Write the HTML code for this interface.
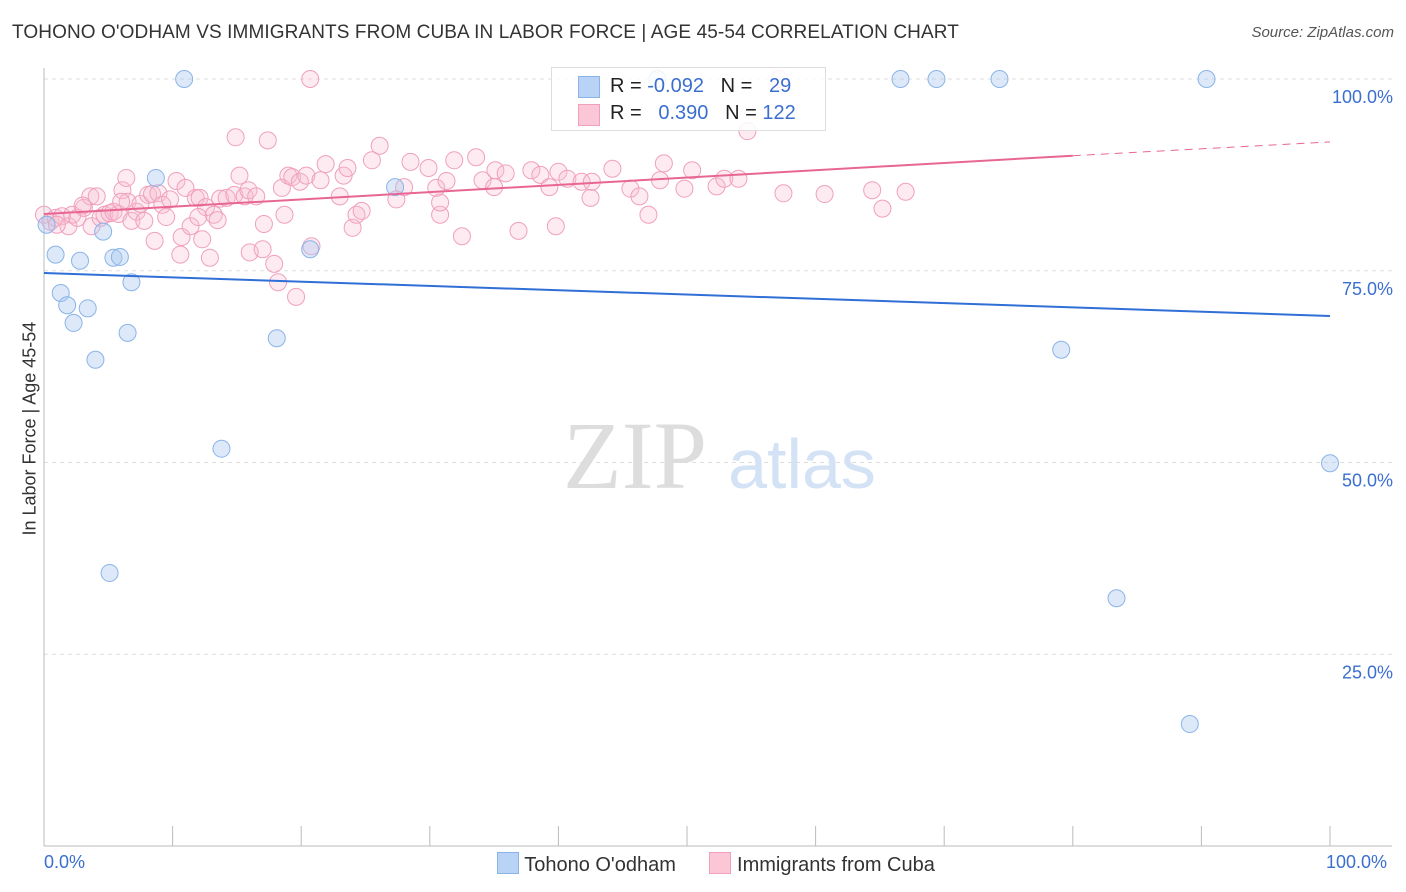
<!DOCTYPE html>
<html><head><meta charset="utf-8"><style>
body{margin:0;background:#fff;font-family:"Liberation Sans",sans-serif;}
#wrap{position:relative;width:1406px;height:892px;overflow:hidden}
.t{position:absolute;white-space:nowrap}
</style></head><body>
<div id="wrap">
<div class="t" style="left:12px;top:22px;font-size:19px;color:#333;letter-spacing:0.1px">TOHONO O'ODHAM VS IMMIGRANTS FROM CUBA IN LABOR FORCE | AGE 45-54 CORRELATION CHART</div>
<div class="t" style="right:12px;top:24px;font-size:15px;color:#555;font-style:italic;">Source: ZipAtlas.com</div>
<svg id="svg" width="1406" height="892" style="position:absolute;left:0;top:0"></svg>
<div class="t" style="left:551px;top:67px;width:273px;height:62px;border:1px solid #ddd;background:rgba(255,255,255,0.85);font-size:20px;">
 <div style="position:absolute;left:26px;top:8px;width:20px;height:20px;background:#b8d3f5;border:1px solid #8ab4e8"></div>
 <div style="position:absolute;left:26px;top:36px;width:20px;height:20px;background:#fbc6d6;border:1px solid #f0a0bc"></div>
 <div style="position:absolute;left:58px;top:7px;color:#222">R = <span style="color:#3a6fd0">-0.092</span>&nbsp;&nbsp;&nbsp;N = &nbsp;&nbsp;<span style="color:#3a6fd0">29</span></div>
 <div style="position:absolute;left:58px;top:34px;color:#222">R = &nbsp;&nbsp;<span style="color:#3a6fd0">0.390</span>&nbsp;&nbsp;&nbsp;N = <span style="color:#3a6fd0">122</span></div>
</div>
<div class="t" style="left:-50px;top:445px;font-size:18px;color:#333;transform:rotate(-90deg);width:160px;text-align:center">In Labor Force | Age 45-54</div>
<div class="t" style="left:44px;top:852px;font-size:18px;color:#3a6fd0">0.0%</div>
<div class="t" style="left:1326px;top:852px;font-size:18px;color:#3a6fd0">100.0%</div>
<div class="t" style="left:497px;top:852px;font-size:20px;color:#333">
 <span style="display:inline-block;width:20px;height:20px;background:#b8d3f5;border:1px solid #8ab4e8;vertical-align:-3px"></span> Tohono O'odham
 <span style="display:inline-block;width:20px;height:20px;background:#fbc6d6;border:1px solid #f0a0bc;vertical-align:-3px;margin-left:28px"></span> Immigrants from Cuba
</div>
</div>
<script>
const blueX=[0.9,2.8,4.6,5.4,5.9,6.8,8.7,1.3,1.8,3.4,2.3,4.0,6.5,18.1,13.8,5.1,20.7,27.3,79.1,100,83.4,89.1,0.2,10.9,66.6,69.4,74.3,90.4,47.7];
const blueY=[77.1,76.3,80.1,76.7,76.8,73.5,87.1,72.1,70.5,70.1,68.2,63.4,66.9,66.2,51.8,35.6,77.8,85.9,64.7,49.9,32.3,15.9,81.0,100,100,100,100,100,100];
const pinkX=[0,0.5,0.9,1.4,1.9,2.2,2.6,3.1,3.6,3.7,4.1,4.4,4.7,5.1,5.4,5.8,6.1,6.4,6.5,6.8,7.2,7.5,7.8,8.1,8.4,8.6,8.9,9.2,9.5,9.8,10.3,10.6,10.7,11.0,11.4,11.8,12.1,12.3,12.6,12.9,13.2,13.5,13.7,14.2,14.8,14.9,15.2,15.6,15.9,16.0,16.5,17.0,17.1,17.4,17.9,18.2,18.5,18.7,19.0,19.3,19.6,19.9,20.4,20.8,21.5,21.9,23.0,23.3,23.6,24.0,24.3,24.7,25.5,26.1,27.4,28.0,28.5,29.9,30.5,30.8,30.8,31.3,31.9,32.5,33.6,34.1,35.0,35.1,35.9,36.9,37.9,38.6,39.3,39.8,40.0,40.7,41.8,42.5,42.6,44.2,45.6,46.3,47.0,47.9,48.2,49.8,50.4,52.3,52.9,54.0,54.7,57.5,60.7,64.4,65.2,67.0,20.7,57.2,1.0,3.0,6.0,12.0];
const pinkY=[82.3,81.4,81.9,82.1,80.8,82.3,81.9,83.2,84.7,80.8,84.7,81.9,82.3,82.5,82.7,82.4,85.5,87.1,84.0,81.5,82.7,83.7,81.5,84.9,85.0,78.9,85.1,83.6,82.0,84.3,86.7,77.1,79.4,85.8,80.8,84.5,84.5,79.1,83.3,76.7,82.3,81.6,84.4,84.5,84.9,92.4,87.4,84.7,85.5,77.4,84.7,77.8,81.1,92.0,75.9,73.5,85.8,82.3,87.4,87.2,71.6,86.6,87.4,78.2,86.8,88.9,84.7,87.4,88.4,80.6,82.3,82.8,89.4,91.3,84.3,85.9,89.2,88.4,85.8,82.3,83.9,86.7,89.4,79.5,89.8,86.8,85.9,88.1,87.7,80.2,88.1,87.5,85.9,80.8,87.9,87.0,86.6,84.5,86.6,88.3,85.7,84.7,82.3,86.8,89.0,85.7,88.1,86.0,87.0,87.0,93.2,85.1,85.0,85.5,83.1,85.3,100,100,81.0,83.5,84.0,82.0];
const blueTrendX=[0,100], blueTrendY=[74.7,69.1];
const pinkTrendX=[0,80,100], pinkTrendY=[82.4,90.0,91.8];
const yTicks=[100,75,50,25], yTickLabels=["100.0%","75.0%","50.0%","25.0%"];
const xTicks=[0,10,20,30,40,50,60,70,80,90,100];
const sx=v=>44+v*12.86, sy=v=>846-v*7.67;
const svg=document.getElementById('svg');const NS='http://www.w3.org/2000/svg';
function mk(tag,attrs,name){const e=document.createElementNS(NS,tag);for(const k in attrs)e.setAttribute(k,attrs[k]);


svg.appendChild(e);return e;}
yTicks.forEach((t,i)=>{mk('line',{x1:44,x2:1392,y1:sy(t),y2:sy(t),stroke:'#ddd','stroke-dasharray':'4,4'},'gridline');
const tx=mk('text',{x:1393,y:sy(t)+24,'text-anchor':'end','font-size':18,fill:'#3a6fd0','font-family':'Liberation Sans'},'y-tick-label');tx.textContent=yTickLabels[i];});
mk('line',{x1:44,x2:44,y1:68,y2:846,stroke:'#bbb'},'y-axis');
mk('line',{x1:44,x2:1392,y1:846,y2:846,stroke:'#bbb'},'x-axis');
xTicks.forEach(t=>mk('line',{x1:sx(t),x2:sx(t),y1:826,y2:846,stroke:'#bbb'},'x-tick'));
const w1=mk('text',{x:635,y:488,'text-anchor':'middle','font-size':96,fill:'#ddd','font-family':'Liberation Serif'},'watermark-zip');w1.textContent='ZIP';
const w2=mk('text',{x:802,y:488,'text-anchor':'middle','font-size':70,fill:'#d4e2f5','font-family':'Liberation Sans'},'watermark-atlas');w2.textContent='atlas';
pinkX.forEach((x,i)=>mk('circle',{cx:sx(x),cy:sy(pinkY[i]),r:8.5,fill:'rgba(248,190,210,0.3)',stroke:'#f0a0bc','stroke-width':1},'pink-point'));
blueX.forEach((x,i)=>mk('circle',{cx:sx(x),cy:sy(blueY[i]),r:8.5,fill:'rgba(170,200,240,0.4)',stroke:'#8ab4e8','stroke-width':1},'blue-point'));
mk('line',{x1:sx(blueTrendX[0]),y1:sy(blueTrendY[0]),x2:sx(blueTrendX[1]),y2:sy(blueTrendY[1]),stroke:'#2f6fd6','stroke-width':2},'blue-trend-line');
mk('line',{x1:sx(pinkTrendX[0]),y1:sy(pinkTrendY[0]),x2:sx(pinkTrendX[1]),y2:sy(pinkTrendY[1]),stroke:'#e86694','stroke-width':2},'pink-trend-line');
mk('line',{x1:sx(pinkTrendX[1]),y1:sy(pinkTrendY[1]),x2:sx(pinkTrendX[2]),y2:sy(pinkTrendY[2]),stroke:'#e86694','stroke-width':1,'stroke-dasharray':'8,6'},'pink-trend-extension');
</script>
</body></html>
